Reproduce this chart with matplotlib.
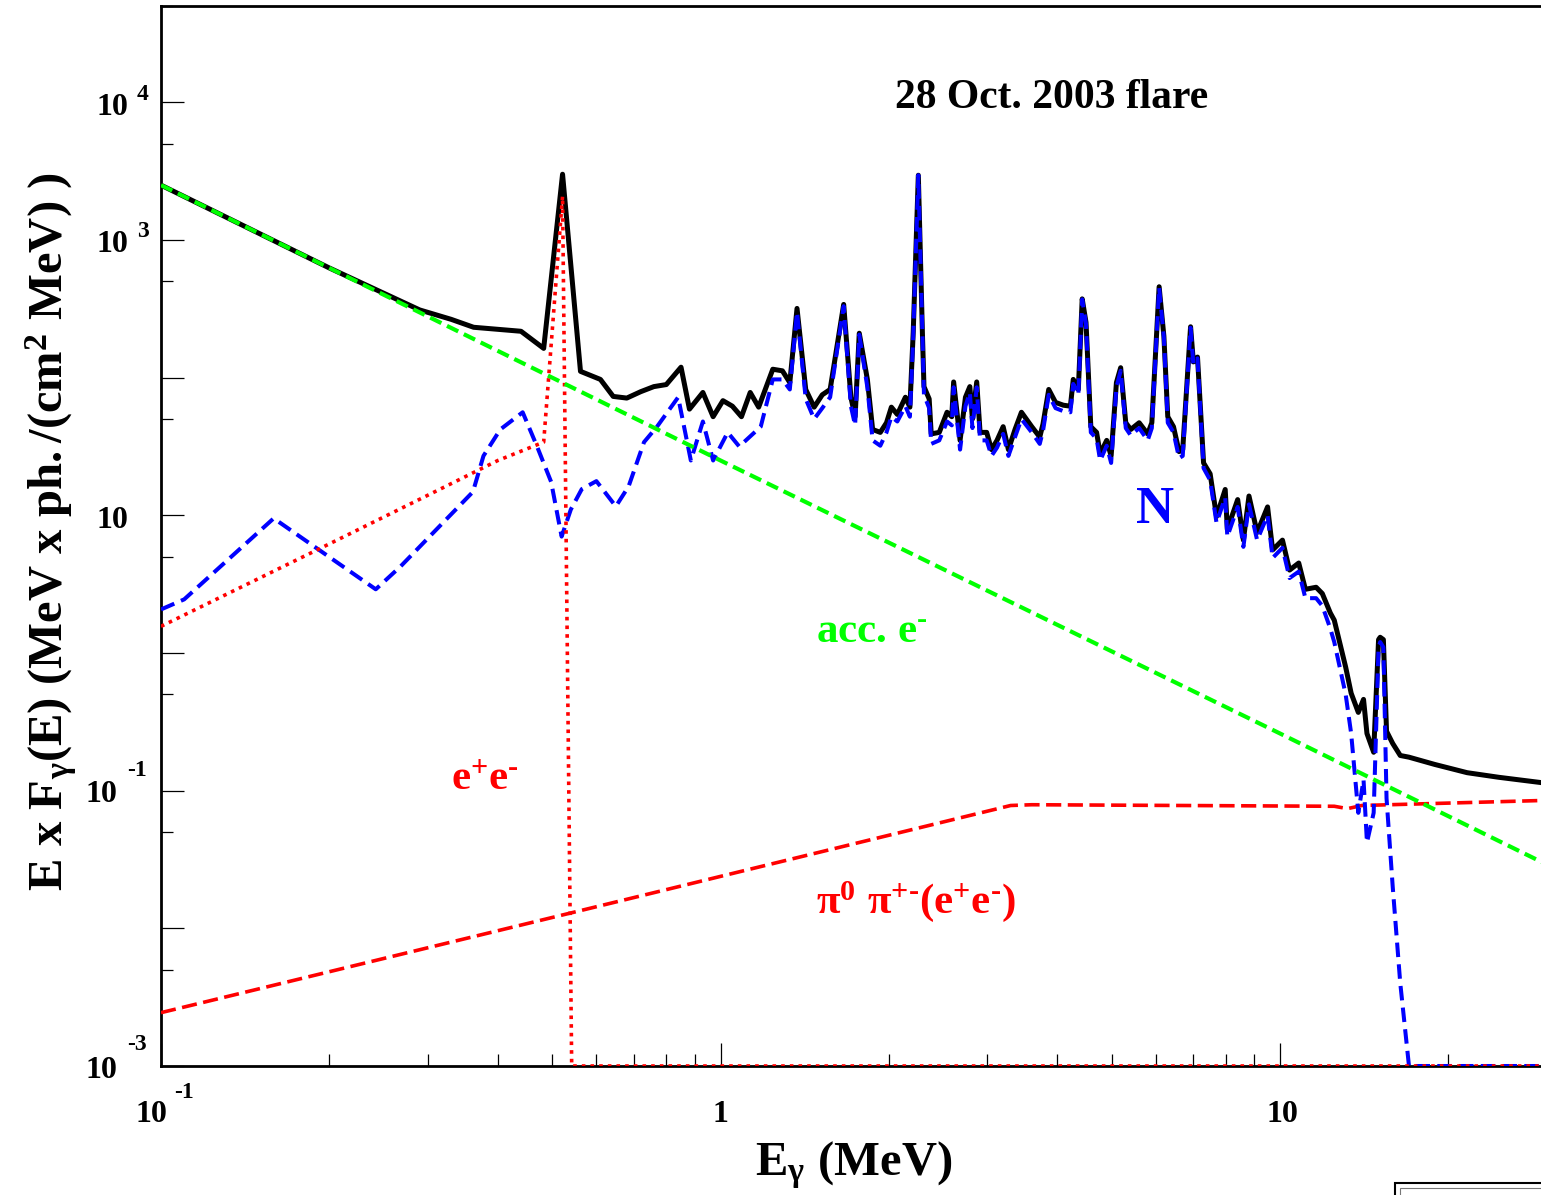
import numpy as np
import matplotlib
matplotlib.use("Agg")
import matplotlib.pyplot as plt
from matplotlib.ticker import LogLocator, FixedLocator, NullFormatter
from matplotlib.patches import Rectangle

# fonts: bold Times-like serif everywhere
plt.rcParams['font.family'] = ['Liberation Serif', 'DejaVu Serif']
plt.rcParams['font.weight'] = 'bold'
plt.rcParams['mathtext.fontset'] = 'custom'
plt.rcParams['mathtext.rm'] = 'Liberation Serif:bold'
plt.rcParams['mathtext.it'] = 'Liberation Serif:bold:italic'
plt.rcParams['mathtext.bf'] = 'Liberation Serif:bold'
plt.rcParams['mathtext.default'] = 'rm'

# ---- data ----
# total spectrum below 1.37 MeV
e_tot_low = [0.1, 0.15, 0.2, 0.25, 0.29, 0.33, 0.362, 0.44, 0.483, 0.522,
             0.562, 0.61, 0.643, 0.68, 0.72, 0.76, 0.80, 0.85, 0.88, 0.93,
             0.97, 1.01, 1.05, 1.09, 1.13, 1.17, 1.24, 1.29, 1.33]
f_tot_low = [2500, 1110, 625, 410, 310, 265, 232, 217, 163, 3000,
             111, 97, 73, 71, 79, 86, 89, 119, 59, 78,
             52, 68, 62, 52, 78, 61, 115, 112, 92]

# nuclear lines (N) below 1.37 MeV
e_nuc_low = [0.1, 0.11, 0.159, 0.242, 0.268, 0.307, 0.361, 0.377, 0.404, 0.443,
             0.47, 0.498, 0.52, 0.54, 0.565, 0.60, 0.65, 0.685, 0.73, 0.77,
             0.84, 0.885, 0.93, 0.97, 1.03, 1.08, 1.18, 1.24, 1.29, 1.33]
f_nuc_low = [2.07, 2.45, 9.5, 2.9, 4.25, 7.5, 14.8, 27, 42, 56,
             31.6, 17.5, 7.0, 11, 15.5, 17.7, 11.6, 16.2, 34, 44,
             72, 25, 48, 25, 40, 31.6, 44, 97, 97, 82]

# common energy grid above 1.37 MeV (line region and tail)
e_hi = [1.37, 1.42, 1.47, 1.52, 1.57, 1.66, 1.71, 1.74, 1.77, 1.83,
        1.87, 1.93, 1.98, 2.02, 2.07, 2.14, 2.18, 2.21, 2.257, 2.295,
        2.31, 2.36, 2.38, 2.46, 2.54, 2.59, 2.61, 2.68, 2.74, 2.79,
        2.82, 2.87, 2.91, 2.99, 3.05, 3.12, 3.2, 3.27, 3.36, 3.45,
        3.6, 3.72, 3.77, 3.86, 3.97, 4.1, 4.22, 4.27, 4.36, 4.43,
        4.5, 4.59, 4.7, 4.77, 4.9, 4.99, 5.1, 5.19, 5.3, 5.41,
        5.6, 5.8, 5.9, 6.08, 6.2, 6.3, 6.45, 6.6, 6.7, 6.92,
        7.0, 7.12, 7.3, 7.5, 7.6, 7.7, 7.98, 8.05, 8.4, 8.6,
        8.8, 9.1, 9.5, 9.7, 10.1, 10.4, 10.8, 11.1, 11.6, 11.9,
        12.3, 12.5, 13.1, 13.4, 13.8, 14.1, 14.3, 14.7, 15.0, 15.1,
        15.3, 15.5, 15.9, 16.4, 17.0, 18.9, 21.6, 24.6, 30]
f_tot_hi = [318, 82, 61, 75, 82, 340, 72, 52, 210, 97,
            42, 40, 47, 61, 54, 72, 61, 213, 2950, 213,
            86, 70, 39, 40, 56, 52, 93, 35, 72, 86,
            50, 93, 40, 40, 30, 35, 44, 30, 42, 56,
            44, 37, 46, 82, 66, 63, 62, 97, 82, 373,
            252, 44, 40, 28, 35, 27, 92, 118, 47, 42,
            47, 39, 47, 457, 200, 52, 44, 29, 30, 234,
            130, 141, 24, 20, 14, 9.8, 15.4, 7.9, 13, 6.6,
            13.8, 7.5, 11.5, 5.6, 6.6, 4.0, 4.5, 2.9, 3.0, 2.7,
            1.95, 1.73, 0.79, 0.51, 0.37, 0.46, 0.26, 0.19, 1.25, 1.3,
            1.25, 0.27, 0.22, 0.18, 0.175, 0.155, 0.135, 0.125, 0.113]
f_nuc_hi = [300, 70, 50, 60, 72, 330, 62, 45, 205, 85,
            35, 32, 40, 52, 48, 62, 52, 200, 2950, 200,
            75, 60, 33, 35, 48, 45, 85, 30, 62, 78,
            43, 85, 35, 35, 27, 31, 39, 27, 37, 50,
            40, 33, 41, 75, 60, 57, 56, 90, 75, 370,
            245, 40, 36, 25, 32, 24, 85, 112, 43, 38,
            43, 35, 43, 450, 195, 47, 40, 26, 27, 230,
            125, 138, 22, 18, 12.5, 8.8, 13.5, 7.0, 11.5, 5.9,
            12, 6.6, 10, 4.9, 5.8, 3.5, 3.9, 2.5, 2.5, 2.2,
            1.5, 1.2, 0.5, 0.26, 0.069, 0.12, 0.042, 0.069, 1.1, 1.2,
            1.1, 0.088, 0.02, 0.004, 0.001, 0.001, 0.001, 0.001, 0.001]

# accelerated electrons (green)
e_acc = [0.1, 1.0, 10.0, 30]
f_acc = [2500, 25, 0.26, 0.029]

# e+e- annihilation (red dotted)
e_ann = [0.1, 0.2, 0.3, 0.4, 0.483, 0.522, 0.542, 30]
f_ann = [1.56, 6.2, 14, 25, 34, 2075, 0.001, 0.001]

# pion decay (red dashed)
e_pi = [0.1, 0.56, 3.3, 3.6, 12.5, 13.2, 14.0, 30]
f_pi = [0.00244, 0.0134, 0.078, 0.079, 0.077, 0.074, 0.078, 0.085]

# ---- figure ----
W, H = 1541, 1195


def fp(x, y):
    return x / W, 1 - y / H


fig = plt.figure(figsize=(W / 100, H / 100), dpi=100)
ax = fig.add_axes([161 / W, 1 - 1066 / H, (1547 - 161) / W, (1066 - 6) / H])

e_tot = e_tot_low + e_hi
f_tot = f_tot_low + f_tot_hi
e_nuc = e_nuc_low + e_hi
f_nuc = f_nuc_low + f_nuc_hi

ax.plot(e_tot, f_tot, color='black', lw=3.6, zorder=2)
ax.plot(e_pi, f_pi, color='#ff0000', lw=2.6, ls=(0, (4.2, 1.8)), zorder=3)
ax.plot(e_nuc, f_nuc, color='#0000ff', lw=2.9, ls=(0, (3.6, 1.8)), zorder=4)
ax.plot(e_ann, f_ann, color='#ff0000', lw=2.6, ls=(0, (1.0, 1.4)), zorder=5)
ax.plot(e_acc, f_acc, color='#00ff00', lw=3.0, ls=(0, (3.0, 1.5)), zorder=6)

ax.set_xscale('log')
ax.set_yscale('log')
ax.set_xlim(0.1, 30)
ax.set_ylim(1e-3, 5e4)

ax.xaxis.set_major_locator(FixedLocator([0.1, 1, 10]))
ax.xaxis.set_minor_locator(LogLocator(base=10, subs=np.arange(2, 10)))
ax.yaxis.set_major_locator(FixedLocator([10.0 ** k for k in range(-3, 5)]))
ax.yaxis.set_minor_locator(FixedLocator([5 * 10.0 ** k for k in range(-3, 5)]))
for a in (ax.xaxis, ax.yaxis):
    a.set_major_formatter(NullFormatter())
    a.set_minor_formatter(NullFormatter())
ax.tick_params(which='both', direction='in', top=False, right=False,
               width=0.9, color='black')
ax.tick_params(which='major', length=16.5)
ax.tick_params(which='minor', length=8.5)
for s in ax.spines.values():
    s.set_linewidth(2.0)
ax.spines['right'].set_visible(False)

# ---- tick labels (as in the original: '10' with a raised exponent) ----
lab = dict(fontsize=23, fontweight='bold', color='black')
sup = dict(fontsize=17, fontweight='bold', color='black')
# y axis
fig.text(*fp(128, 115), '10', ha='right', va='baseline', **lab)
fig.text(*fp(137, 100), '4', ha='left', va='baseline', **sup)
fig.text(*fp(128, 252), '10', ha='right', va='baseline', **lab)
fig.text(*fp(137, 237), '3', ha='left', va='baseline', **sup)
fig.text(*fp(128, 528), '10', ha='right', va='baseline', **lab)
fig.text(*fp(117, 802), '10', ha='right', va='baseline', **lab)
fig.text(*fp(127, 776), '-1', ha='left', va='baseline', **sup)
fig.text(*fp(117, 1078), '10', ha='right', va='baseline', **lab)
fig.text(*fp(127, 1050), '-3', ha='left', va='baseline', **sup)
# x axis
fig.text(*fp(151, 1122), '10', ha='center', va='baseline', **lab)
fig.text(*fp(174, 1098), '-1', ha='left', va='baseline', **sup)
fig.text(*fp(720, 1122), '1', ha='center', va='baseline', **lab)
fig.text(*fp(1282, 1122), '10', ha='center', va='baseline', **lab)

# ---- axis titles ----
fig.text(*fp(854, 1175), r'$\mathrm{E_{\gamma}\ (MeV)}$', ha='center',
         va='baseline', fontsize=35)
fig.text(*fp(63, 531), r'$\mathrm{E\ x\ F_{\gamma}(E)\ (MeV\ x\ ph./(cm^{2}\ MeV)\ )}$',
         ha='center', va='baseline', rotation=90, rotation_mode='anchor',
         fontsize=35)

# ---- annotations ----
fig.text(*fp(1052, 108), '28 Oct. 2003 flare', ha='center', va='baseline',
         fontsize=30, fontweight='bold', color='black')
fig.text(*fp(1155, 523), 'N', ha='center', va='baseline', fontsize=38,
         fontweight='bold', color='#0000ff')
fig.text(*fp(872, 643), r'$\text{acc. e}^{\text{-}}$', ha='center', va='baseline',
         fontsize=31, color='#00ff00')
fig.text(*fp(485, 790), r'$\text{e}^{+}\text{e}^{\text{-}}$', ha='center', va='baseline',
         fontsize=31, color='#ff0000')
fig.text(*fp(916, 913), r'$\pi^{0}\ \pi^{+\text{-}}\text{(e}^{+}\text{e}^{\text{-}}\text{)}$',
         ha='center', va='baseline', fontsize=31, color='#ff0000')

# cut-off box in the lower right corner
fig.patches.append(Rectangle(fp(1395, 1210), 200 / W, 27 / H, transform=fig.transFigure,
                             fill=False, lw=1.5, ec='black', clip_on=False))
fig.patches.append(Rectangle(fp(1400, 1210), 200 / W, 22 / H, transform=fig.transFigure,
                             fill=False, lw=0.8, ec='#777777', clip_on=False))

fig.savefig('out.png', dpi=100)
